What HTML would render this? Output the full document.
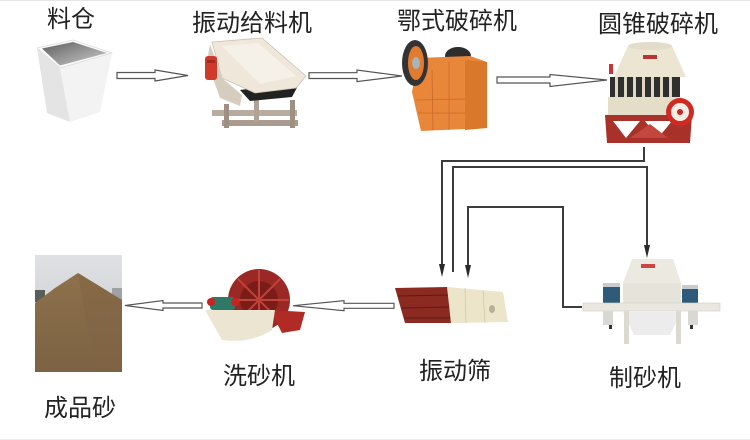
<!DOCTYPE html>
<html>
<head>
<meta charset="utf-8">
<style>
html,body{margin:0;padding:0;background:#fff;}
svg{display:block;}
text{font-family:"Liberation Sans","Noto Sans CJK SC",sans-serif;font-size:24px;fill:#222;}
</style>
</head>
<body>
<svg width="750" height="440" viewBox="0 0 750 440" xmlns="http://www.w3.org/2000/svg">
<defs>
  <linearGradient id="binIn" x1="0" y1="0" x2="1" y2="1">
    <stop offset="0" stop-color="#5e5e5e"/>
    <stop offset="1" stop-color="#d0d0d0"/>
  </linearGradient>
  <linearGradient id="sky" x1="0" y1="0" x2="0" y2="1">
    <stop offset="0" stop-color="#dfe1e4"/>
    <stop offset="1" stop-color="#c3c6ca"/>
  </linearGradient>
  <linearGradient id="pile" x1="0" y1="0" x2="0" y2="1">
    <stop offset="0" stop-color="#8d714c"/>
    <stop offset="1" stop-color="#7d6243"/>
  </linearGradient>
</defs>

<rect x="0" y="0" width="750" height="440" fill="#fff"/>
<line x1="0" y1="0.5" x2="750" y2="0.5" stroke="#e4e4e4" stroke-width="1"/>
<line x1="0" y1="439.5" x2="750" y2="439.5" stroke="#ececec" stroke-width="1"/>

<!-- Labels -->
<text x="47" y="27">料仓</text>
<text x="192" y="31">振动给料机</text>
<text x="397" y="29">鄂式破碎机</text>
<text x="598" y="32">圆锥破碎机</text>
<text x="223" y="384">洗砂机</text>
<text x="419" y="379">振动筛</text>
<text x="609" y="386">制砂机</text>
<text x="44" y="416">成品砂</text>

<!-- Bin 料仓 -->
<polygon points="37,48 60,68 70,122 47,113" fill="#e4e4e4"/>
<polygon points="60,68 112,53 100,112 70,122" fill="#f3f3f3"/>
<polygon points="37,48 73,40 112,53 60,68" fill="#fafafa" stroke="#dcdcdc" stroke-width="0.8"/>
<polygon points="42,48.5 73,42 107,53 60,65.5" fill="url(#binIn)"/>

<!-- Feeder 振动给料机 -->
<rect x="212" y="110" width="85" height="6" fill="#b8ac9e"/>
<rect x="222" y="120" width="76" height="6" fill="#a99c8e"/>
<rect x="224" y="104" width="5" height="24" fill="#9d9083"/>
<rect x="290" y="100" width="5" height="28" fill="#9d9083"/>
<rect x="254" y="100" width="5" height="22" fill="#b0a396"/>
<polygon points="240,90 300,82 292,97 250,101" fill="#222"/>
<polygon points="212,42 262,38 306,76 296,88 255,93 222,78" fill="#eee7da" stroke="#cbc1b2" stroke-width="0.8"/>
<polygon points="222,46 258,43 296,76 260,84" fill="#f6f1e8"/>
<polygon points="210,44 222,78 242,95 240,106 220,98 207,62" fill="#d7cdbf"/>
<rect x="205" y="56" width="12" height="24" rx="3" fill="#cf3a2a"/>
<rect x="207" y="60" width="8" height="3" fill="#a52a1e"/>

<!-- Jaw crusher 鄂式破碎机 -->
<ellipse cx="458" cy="56" rx="13" ry="9" fill="#2d2d2d"/>
<polygon points="418,58 470,56 487,62 487,128 421,131 412,92" fill="#e8873a"/>
<polygon points="465,60 487,62 487,128 465,130" fill="#d9772b"/>
<g stroke="#c86a26" stroke-width="0.8" fill="none">
  <line x1="416" y1="100" x2="465" y2="99"/>
  <line x1="418" y1="113" x2="465" y2="113"/>
  <line x1="432" y1="70" x2="433" y2="130"/>
  <line x1="449" y1="62" x2="449" y2="130"/>
</g>
<ellipse cx="415" cy="63" rx="13" ry="23" fill="#333"/>
<ellipse cx="416" cy="63" rx="8" ry="17" fill="#e07b30"/>
<ellipse cx="416" cy="63" rx="4" ry="6" fill="#a9b3b8"/>

<!-- Cone crusher 圆锥破碎机 -->
<polygon points="605,115 692,115 690,143 607,143" fill="#a8322a"/>
<polygon points="613,121 640,121 626,138" fill="#fff"/>
<polygon points="645,121 672,121 658,138" fill="#fff"/>
<polygon points="630,138 650,124 668,138" fill="#c4473d"/>
<rect x="608" y="97" width="74" height="18" fill="#e4dec9"/>
<rect x="610" y="77" width="70" height="20" fill="#2f2f2f"/>
<g fill="#ddd6c0">
  <rect x="615" y="77" width="3" height="20"/><rect x="624" y="77" width="3" height="20"/>
  <rect x="633" y="77" width="3" height="20"/><rect x="642" y="77" width="3" height="20"/>
  <rect x="651" y="77" width="3" height="20"/><rect x="660" y="77" width="3" height="20"/>
  <rect x="669" y="77" width="3" height="20"/>
</g>
<polygon points="614,77 628,46 672,46 686,77" fill="#ebe5d2"/>
<ellipse cx="650" cy="46" rx="22" ry="4" fill="#e2dcc8"/>
<rect x="643" y="55" width="14" height="4" fill="#b33"/>
<rect x="609" y="64" width="4" height="10" fill="#c33"/>
<circle cx="680" cy="112" r="14" fill="#d02a22"/>
<circle cx="680" cy="112" r="9" fill="#f2eee6"/>
<circle cx="680" cy="112" r="3" fill="#c22"/>

<!-- Hollow arrows top row -->
<g fill="#fff" stroke="#555" stroke-width="1.2" stroke-linejoin="miter">
  <polygon points="117,72.5 155,72.5 155,70 188,75.5 155,81 155,78.5 117,78.5"/>
  <polygon points="309,72.7 357,72.7 357,70 402,76 357,81.6 357,78.5 309,78.5"/>
  <polygon points="497,77 550,77 550,74.5 607,80 550,86.5 550,83 497,83"/>
  <!-- bottom row, pointing left -->
  <polygon points="202,303 163,303 163,300.5 125,305.5 163,310.5 163,308 202,308"/>
  <polygon points="394,303.3 344,303.3 344,300.7 293,305.7 344,310.7 344,308.3 394,308.3"/>
</g>

<!-- Connector lines -->
<g fill="none" stroke="#3c3c3c" stroke-width="2">
  <path d="M644,147 V161 H442 V267"/>
  <path d="M453,272 V167 H647 V247"/>
  <path d="M582,307 H563 V207 H468 V267"/>
</g>
<g fill="#2a2a2a">
  <polygon points="439,264 445,264 442,277"/>
  <polygon points="644,245 650,245 647,258"/>
  <polygon points="465,265 471,265 468,278"/>
</g>

<!-- Vibrating screen 振动筛 -->
<polygon points="395,288 448,287 451,323 405,323" fill="#8a2a20"/>
<g stroke="#5e1a14" stroke-width="1">
  <line x1="398" y1="296" x2="449" y2="295"/>
  <line x1="401" y1="308" x2="450" y2="307"/>
  <line x1="404" y1="318" x2="450" y2="318"/>
</g>
<polygon points="447,287 503,292 508,322 451,323" fill="#ece5c9"/>
<g stroke="#d2c9a8" stroke-width="0.8">
  <line x1="465" y1="288" x2="466" y2="323"/>
  <line x1="483" y1="290" x2="485" y2="323"/>
</g>
<ellipse cx="492" cy="309" rx="3" ry="4" fill="#b8b09a"/>

<!-- Sand maker 制砂机 -->
<rect x="603" y="283" width="17" height="22" rx="3" fill="#2f5b7a"/>
<rect x="682" y="285" width="16" height="20" rx="3" fill="#2f5b7a"/>
<rect x="603" y="283" width="17" height="4" fill="#c8ccd0"/>
<rect x="682" y="285" width="16" height="4" fill="#c8ccd0"/>
<polygon points="623,312 681,312 670,335 634,335" fill="#ececec"/>
<rect x="623" y="283" width="58" height="20" fill="#e6e4da"/>
<polygon points="623,283 632,259 673,259 681,283" fill="#ebe9e0"/>
<rect x="641" y="264" width="14" height="4" fill="#c44"/>
<rect x="583" y="303" width="137" height="8" fill="#e9e7df" stroke="#d0cec4" stroke-width="0.6"/>
<rect x="624" y="311" width="5" height="33" fill="#dcdad0"/>
<rect x="676" y="311" width="5" height="33" fill="#dcdad0"/>
<rect x="603" y="311" width="10" height="14" fill="#d8d8d4"/>
<rect x="688" y="311" width="10" height="14" fill="#d8d8d4"/>
<rect x="609" y="325" width="3" height="4" fill="#333"/>
<rect x="690" y="325" width="3" height="4" fill="#333"/>

<!-- Sand washer 洗砂机 -->
<circle cx="259" cy="300" r="31" fill="#9a2824"/>
<circle cx="259" cy="300" r="19" fill="#7a1c18"/>
<g stroke="#c1433b" stroke-width="2">
  <line x1="259" y1="270" x2="259" y2="330"/>
  <line x1="229" y1="300" x2="289" y2="300"/>
  <line x1="238" y1="279" x2="280" y2="321"/>
  <line x1="280" y1="279" x2="238" y2="321"/>
</g>
<polygon points="270,310 305,312 300,330 282,333" fill="#b02a26"/>
<path d="M205,310 H275 L272,330 Q250,344 222,340 Z" fill="#ece5d2"/>
<rect x="210" y="297" width="25" height="13" rx="3" fill="#2e7a66"/>
<circle cx="211" cy="302" r="4" fill="#c22"/>
<circle cx="235" cy="302" r="4" fill="#c22"/>

<!-- Finished sand photo 成品砂 -->
<rect x="35" y="255" width="87" height="117" fill="url(#sky)"/>
<rect x="35" y="290" width="10" height="12" fill="#5a5e58"/>
<rect x="112" y="288" width="10" height="12" fill="#9ea2a6"/>
<polygon points="35,303 55,288 78,273 96,284 122,300 122,372 35,372" fill="url(#pile)"/>
<polygon points="78,273 96,284 122,300 122,372 95,372" fill="#806443" opacity="0.5"/>
</svg>
</body>
</html>
